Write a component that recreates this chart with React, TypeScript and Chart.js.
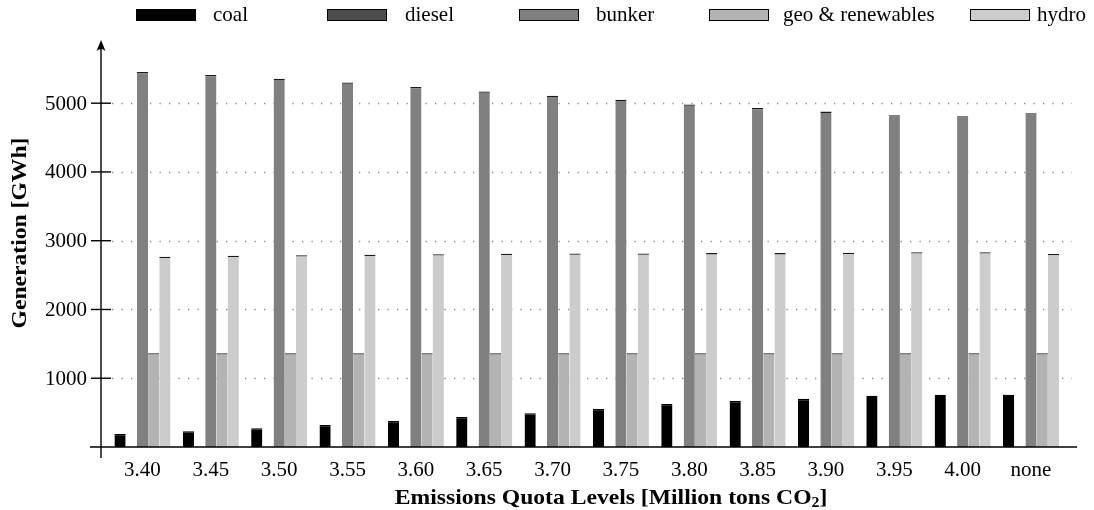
import React, { useEffect, useRef } from "react";
import { Chart, registerables } from "chart.js";

Chart.register(...registerables);

const categories = ["3.40", "3.45", "3.50", "3.55", "3.60", "3.65", "3.70", "3.75", "3.80", "3.85", "3.90", "3.95", "4.00", "none"];
const coal = [190, 230, 272, 320, 378, 436, 492, 553, 625, 669, 700, 746, 761, 761];
const diesel = [0, 0, 0, 0, 0, 0, 0, 0, 0, 0, 0, 0, 0, 0];
const bunker = [5455, 5410, 5355, 5300, 5235, 5170, 5110, 5050, 4980, 4930, 4878, 4825, 4810, 4853];
const geoRenewables = [1363, 1363, 1363, 1363, 1363, 1363, 1363, 1363, 1363, 1363, 1363, 1363, 1363, 1363];
const hydro = [2768, 2783, 2790, 2795, 2805, 2810, 2815, 2815, 2820, 2820, 2825, 2832, 2832, 2807];
const yTickValues = [1000, 2000, 3000, 4000, 5000];
const seriesNames = ["coal", "diesel", "bunker", "geo & renewables", "hydro"];
const seriesColors = ["#000000", "#4d4d4d", "#808080", "#b3b3b3", "#cccccc"];
const xTitle = "Emissions Quota Levels [Million tons CO";
const xTitleSub = "2";
const xTitleEnd = "]";
const yTitle = "Generation [GWh]";

const FONT = "'Liberation Serif', 'DejaVu Serif', serif";
const STRETCH = 1.125;

const axesPlugin = {
  id: "latexAxes",
  beforeDatasetsDraw(chart: any) {
    const ctx = chart.ctx;
    const y = chart.scales.y;
    ctx.save();
    ctx.strokeStyle = "#8a8a8a";
    ctx.lineWidth = 1.3;
    ctx.setLineDash([1.3, 8.2]);
    yTickValues.forEach((v) => {
      const py = Math.round(y.getPixelForValue(v)) + 0.5;
      ctx.beginPath();
      ctx.moveTo(112, py);
      ctx.lineTo(1072, py);
      ctx.stroke();
    });
    ctx.restore();
  },
  afterDatasetsDraw(chart: any) {
    const ctx = chart.ctx;
    const x = chart.scales.x;
    const y = chart.scales.y;
    const axisX = 101;
    const zeroY = y.getPixelForValue(0);
    ctx.save();
    ctx.strokeStyle = "#000";
    ctx.fillStyle = "#000";
    ctx.lineWidth = 1.4;
    // x axis
    ctx.beginPath();
    ctx.moveTo(90, zeroY);
    ctx.lineTo(1077, zeroY);
    ctx.stroke();
    // y axis
    ctx.beginPath();
    ctx.moveTo(axisX, 458);
    ctx.lineTo(axisX, 46);
    ctx.stroke();
    // arrow head
    ctx.beginPath();
    ctx.moveTo(axisX, 40);
    ctx.lineTo(axisX - 4.5, 51);
    ctx.quadraticCurveTo(axisX, 47, axisX + 4.5, 51);
    ctx.closePath();
    ctx.fill();
    // y ticks + labels
    ctx.font = `21px ${FONT}`;
    ctx.textAlign = "right";
    ctx.textBaseline = "middle";
    yTickValues.forEach((v) => {
      const py = y.getPixelForValue(v);
      ctx.beginPath();
      ctx.moveTo(91, py);
      ctx.lineTo(111, py);
      ctx.stroke();
      ctx.fillText(String(v), 87, py + 1);
    });
    // x labels
    ctx.textAlign = "center";
    ctx.textBaseline = "alphabetic";
    categories.forEach((c, i) => {
      ctx.fillText(c, x.getPixelForValue(i), 476);
    });
    // x title (bold, slightly extended like cmbx)
    ctx.font = `bold 21px ${FONT}`;
    const wMain = ctx.measureText(xTitle).width;
    const wEnd = ctx.measureText(xTitleEnd).width;
    ctx.font = `bold 14px ${FONT}`;
    const wSub = ctx.measureText(xTitleSub).width;
    const total = (wMain + wSub + wEnd) * STRETCH;
    ctx.save();
    ctx.translate(611 - total / 2, 504);
    ctx.scale(STRETCH, 1);
    ctx.textAlign = "left";
    ctx.font = `bold 21px ${FONT}`;
    ctx.fillText(xTitle, 0, 0);
    ctx.font = `bold 14px ${FONT}`;
    ctx.fillText(xTitleSub, wMain, 3);
    ctx.font = `bold 21px ${FONT}`;
    ctx.fillText(xTitleEnd, wMain + wSub, 0);
    ctx.restore();
    // y title
    ctx.save();
    ctx.translate(21, 233);
    ctx.rotate(-Math.PI / 2);
    ctx.scale(STRETCH, 1);
    ctx.font = `bold 21px ${FONT}`;
    ctx.textAlign = "center";
    ctx.textBaseline = "middle";
    ctx.fillText(yTitle, 0, 0);
    ctx.restore();
    // legend
    const boxX = [136, 327, 519, 709, 970];
    const textX = [213, 405, 596, 783, 1037];
    ctx.font = `21px ${FONT}`;
    ctx.textBaseline = "alphabetic";
    ctx.textAlign = "left";
    chart.data.datasets.forEach((ds: any, i: number) => {
      ctx.fillStyle = ds.backgroundColor;
      ctx.fillRect(boxX[i], 9.5, 60, 11);
      ctx.lineWidth = 1;
      ctx.strokeStyle = "#000";
      ctx.strokeRect(boxX[i] + 0.5, 9.5, 59, 11);
      ctx.fillStyle = "#000";
      ctx.fillText(ds.label, textX[i], 21);
    });
    ctx.restore();
  },
};

export default function App() {
  const canvasRef = useRef<HTMLCanvasElement | null>(null);

  useEffect(() => {
    if (!canvasRef.current) return;
    const values = [coal, diesel, bunker, geoRenewables, hydro];
    const chart = new Chart(canvasRef.current, {
      type: "bar",
      data: {
        labels: categories,
        datasets: values.map((d, i) => ({
          label: seriesNames[i],
          data: d,
          backgroundColor: seriesColors[i],
          borderColor: i === 0 ? "#000000" : "#1a1a1a",
          borderWidth: i === 1 ? 0 : { top: 1.3, left: 0, right: 0, bottom: 0 },
          borderSkipped: "start",
          barPercentage: 1,
          categoryPercentage: 0.82,
        })),
      },
      options: {
        responsive: false,
        animation: false,
        devicePixelRatio: 1,
        layout: { padding: { left: 108.3, right: 28.8, top: 42, bottom: 63 } },
        plugins: { legend: { display: false }, tooltip: { enabled: false }, title: { display: false } },
        scales: {
          x: { type: "category", display: false, offset: true },
          y: { type: "linear", display: false, min: 0, max: 5890 },
        },
      },
      plugins: [axesPlugin],
    });
    return () => chart.destroy();
  }, []);

  return (
    <div style={{ position: "absolute", left: 0, top: 0, width: 1094, height: 510, background: "#fff" }}>
      <canvas ref={canvasRef} width={1094} height={510} style={{ display: "block" }} />
    </div>
  );
}
